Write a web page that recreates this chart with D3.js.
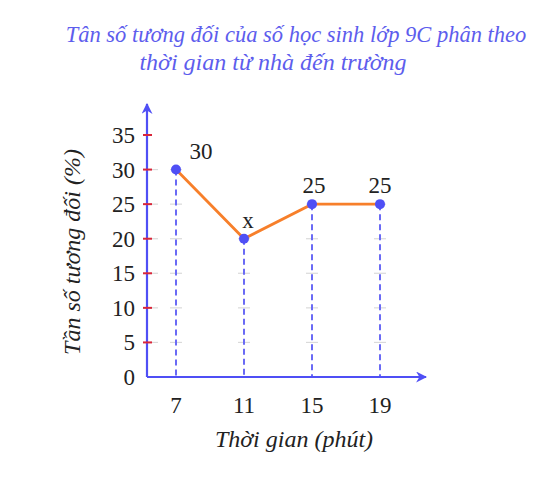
<!DOCTYPE html>
<html>
<head>
<meta charset="utf-8">
<script src="https://cdn.jsdelivr.net/npm/d3@7"></script>
<style>
  body { margin: 0; background: #fff; }
  svg text { font-family: "Liberation Serif", "DejaVu Serif", serif; }
</style>
</head>
<body>
<svg id="chart" width="550" height="483"></svg>
<script>
// data
const times = [7, 11, 15, 19];
const freqs = [30, 20, 25, 25];
const pointLabels = ["30", "x", "25", "25"];
const yTicks = [0, 5, 10, 15, 20, 25, 30, 35];
const titleLines = ["Tân số tương đối của số học sinh lớp 9C phân theo", "thời gian từ nhà đến trường"];

const svg = d3.select("#chart");

// scales: 7 -> 176, spacing ~68px per 4 minutes
let x = d3.scalePoint().domain(times).range([176, 380]);
let y = d3.scaleLinear().domain([0, 35]).range([377, 135]);

const blue = "#4f4ff5";
const orange = "#f77f2a";

// title
const titleX = [296, 273];
svg.append("g").selectAll("text")
  .data(titleLines)
  .enter()
  .append("text")
  .attr("x", (d, i) => titleX[i])
  .attr("y", (d, i) => 42 + i * 28)
  .attr("text-anchor", "middle")
  .attr("font-style", "italic")
  .attr("font-size", (d, i) => i == 0 ? 22.5 : 24)
  .attr("fill", "#5d5ded")
  .text(d => d);

// arrow heads
const defs = svg.append("defs");
defs.append("marker")
  .attr("id", "arrow")
  .attr("viewBox", "0 0 10 10")
  .attr("refX", 9).attr("refY", 5)
  .attr("markerWidth", 5).attr("markerHeight", 5)
  .attr("orient", "auto")
  .append("path")
  .attr("d", "M0,0 L10,5 L0,10 L3,5 Z")
  .attr("fill", blue);

// faint marks where grid levels cross the drop lines
let faint = svg.append("g");
yTicks.filter(v => v > 0 && v <= 30).forEach(function(v) {
  times.forEach(function(t, i) {
    if (v <= freqs[i]) {
      faint.append("line")
        .attr("x1", x(t) - 6).attr("x2", x(t) + 6)
        .attr("y1", y(v)).attr("y2", y(v))
        .attr("stroke", "#dadada")
        .attr("stroke-width", 1.2);
    }
  });
  faint.append("line")
    .attr("x1", 150).attr("x2", 158)
    .attr("y1", y(v)).attr("y2", y(v))
    .attr("stroke", "#dadada")
    .attr("stroke-width", 1.2);
});

// dashed drop lines
svg.append("g").selectAll("line")
  .data(times)
  .enter()
  .append("line")
  .attr("x1", d => x(d)).attr("x2", d => x(d))
  .attr("y1", (d, i) => y(freqs[i]))
  .attr("y2", y(0))
  .attr("stroke", "#6a6af5")
  .attr("stroke-width", 2)
  .attr("stroke-dasharray", "6,4");

// axes
svg.append("line")
  .attr("x1", 147).attr("y1", y(0))
  .attr("x2", 147).attr("y2", 104)
  .attr("stroke", blue).attr("stroke-width", 2.2)
  .attr("marker-end", "url(#arrow)");
svg.append("line")
  .attr("x1", 147).attr("y1", y(0))
  .attr("x2", 426).attr("y2", y(0))
  .attr("stroke", blue).attr("stroke-width", 2.2)
  .attr("marker-end", "url(#arrow)");

// y ticks (red) and labels
let yAxis = svg.append("g");
yAxis.selectAll("line")
  .data(yTicks.filter(v => v > 0))
  .enter()
  .append("line")
  .attr("x1", 143).attr("x2", 152)
  .attr("y1", d => y(d)).attr("y2", d => y(d))
  .attr("stroke", "#d9263a").attr("stroke-width", 2);
yAxis.selectAll("text")
  .data(yTicks)
  .enter()
  .append("text")
  .attr("x", 135)
  .attr("y", d => y(d) + 8)
  .attr("text-anchor", "end")
  .attr("font-size", 23)
  .attr("fill", "#222")
  .text(d => d);

// x tick labels
svg.append("g").selectAll("text")
  .data(times)
  .enter()
  .append("text")
  .attr("x", d => x(d))
  .attr("y", 413)
  .attr("text-anchor", "middle")
  .attr("font-size", 23)
  .attr("fill", "#222")
  .text(d => d);

// axis titles
svg.append("text")
  .attr("x", 294).attr("y", 447)
  .attr("text-anchor", "middle")
  .attr("font-style", "italic")
  .attr("font-size", 24)
  .attr("fill", "#222")
  .text("Thời gian (phút)");
svg.append("text")
  .attr("transform", "translate(80,252) rotate(-90)")
  .attr("text-anchor", "middle")
  .attr("font-style", "italic")
  .attr("font-size", 24)
  .attr("fill", "#222")
  .text("Tần số tương đối (%)");

// polygon line
let line = d3.line()
  .x((d, i) => x(times[i]))
  .y(d => y(d));
svg.append("path")
  .datum(freqs)
  .attr("d", line)
  .attr("fill", "none")
  .attr("stroke", orange)
  .attr("stroke-width", 2.8);

// points
svg.append("g").selectAll("circle")
  .data(freqs)
  .enter()
  .append("circle")
  .attr("cx", (d, i) => x(times[i]))
  .attr("cy", d => y(d))
  .attr("r", 5)
  .attr("fill", blue);

// point labels
const labelDx = [25, 4, 2, 0];
svg.append("g").selectAll("text")
  .data(pointLabels)
  .enter()
  .append("text")
  .attr("x", (d, i) => x(times[i]) + labelDx[i])
  .attr("y", (d, i) => y(freqs[i]) - 11)
  .attr("text-anchor", "middle")
  .attr("font-size", 23)
  .attr("fill", "#222")
  .text(d => d);
</script>
</body>
</html>
